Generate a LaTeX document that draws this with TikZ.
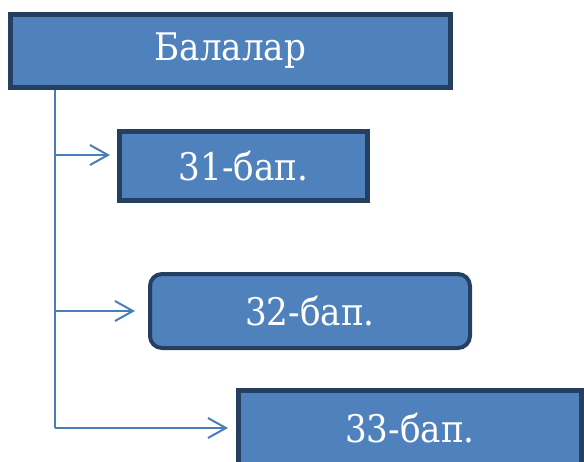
\documentclass[tikz,border=0pt]{standalone}
\usepackage{fontspec}
\setmainfont{DejaVu Serif}
\newfontfamily\boxfont{DejaVu Serif Condensed}
\usetikzlibrary{arrows.meta}

\definecolor{boxfill}{HTML}{4F81BD}
\definecolor{boxline}{HTML}{243F60}
\definecolor{linkline}{HTML}{4A7EBB}

\tikzset{
  chapbox/.style={draw=boxline,fill=boxfill,line width=5pt,text=white,
    font=\boxfont\fontsize{38}{46}\selectfont,inner sep=0pt},
  link/.style={draw=linkline,line width=2pt},
  linkarrow/.style={link,-{Straight Barb[length=18pt,width=20pt,line width=2pt]}}
}

\begin{document}
\begin{tikzpicture}[x=1pt,y=-1pt]
\useasboundingbox (0,0) rectangle (584,461);

\node[chapbox,minimum width=440pt,minimum height=73pt] (top) at (230.5,51) {Балалар};

  \node[chapbox,minimum width=248pt,minimum height=69pt] (b1) at (243.5,166) {31-бап.};

\node[chapbox,line width=4pt,rounded corners=12pt,minimum width=320pt,minimum height=74pt] (b2) at (310,311) {32-бап.};

  \node[chapbox,minimum width=343pt,minimum height=75pt] (b3) at (410,428) {33-бап.};

\coordinate (trunk) at (55,428);
\coordinate (a1) at (55,155);
\coordinate (a2) at (55,311);

\draw[link] (top.south -| trunk) -- (trunk);
  \draw[linkarrow,shorten >=8pt] (trunk) -- (b3.west);
\draw[linkarrow,shorten >=7pt] (a1) -- (a1 -| b1.west);
\draw[linkarrow,shorten >=13pt] (a2) -- (b2.west);

\end{tikzpicture}
\end{document}
